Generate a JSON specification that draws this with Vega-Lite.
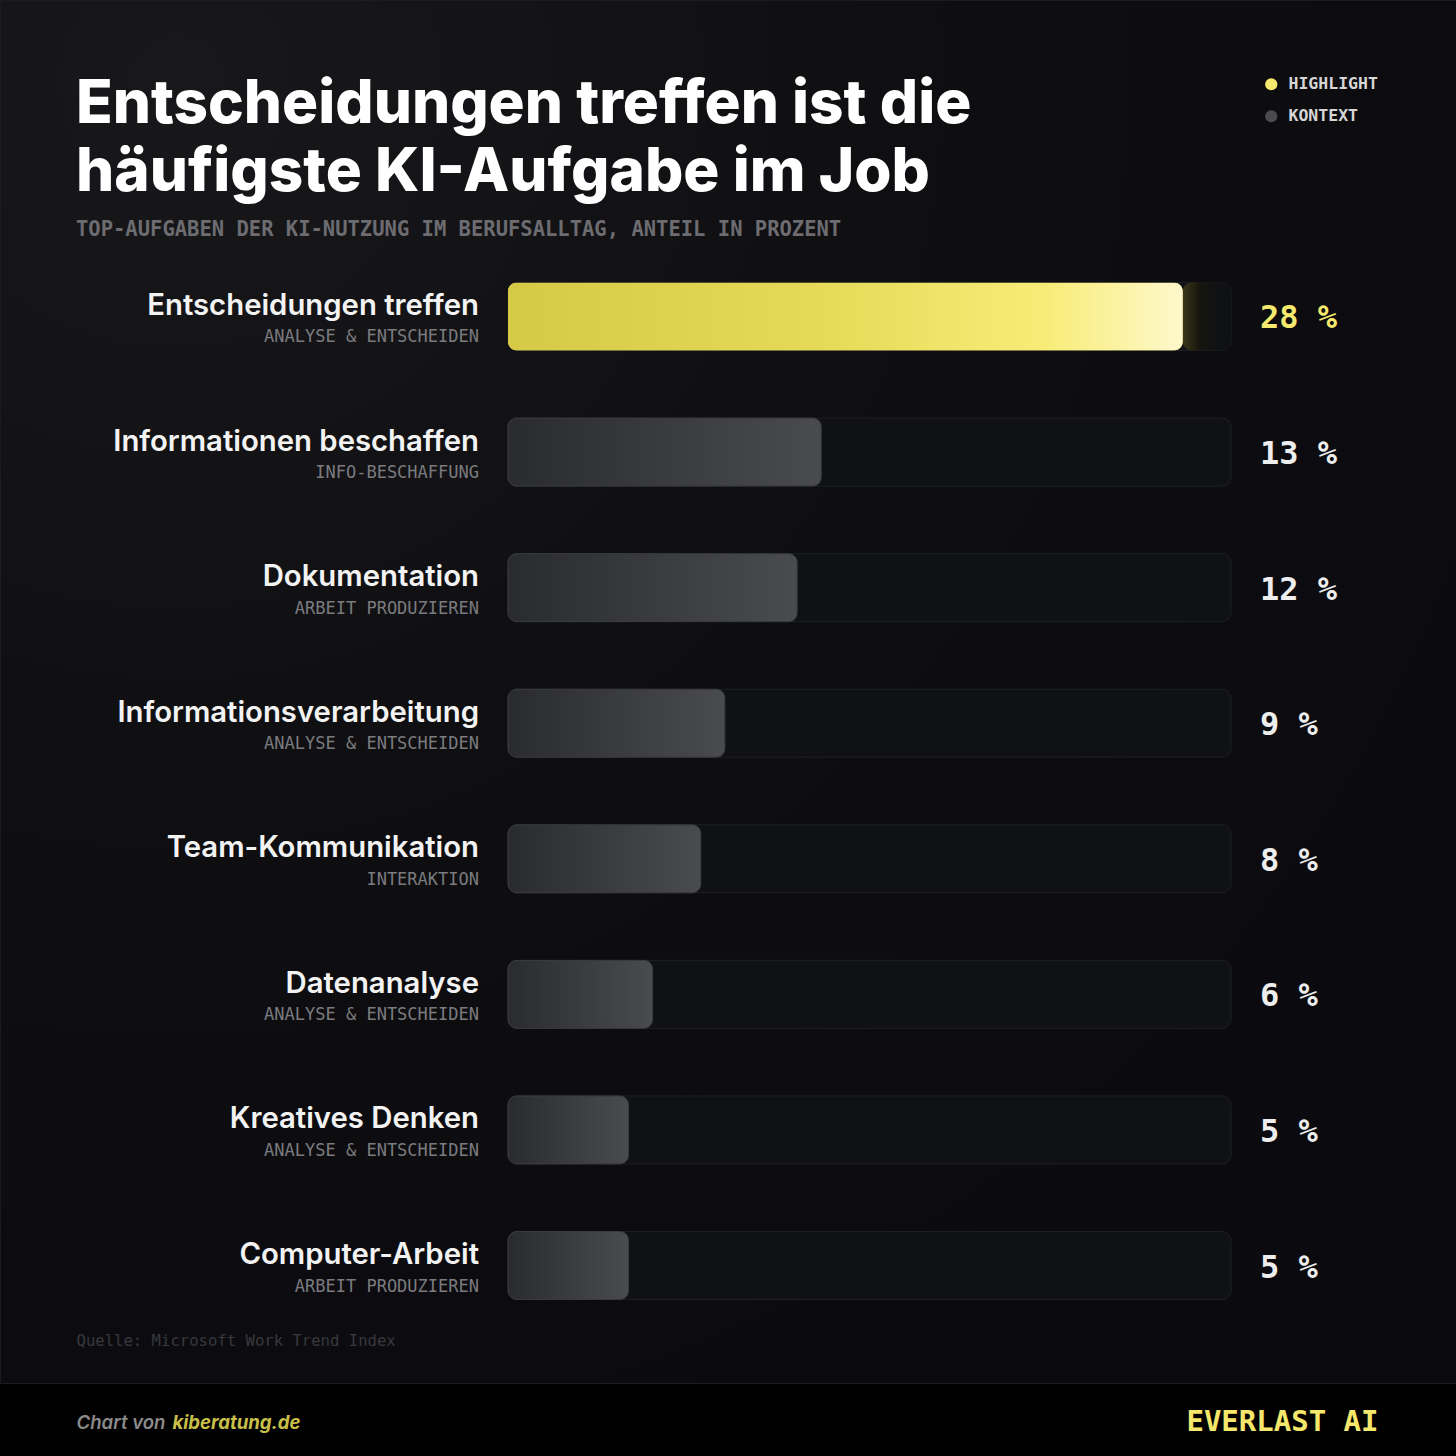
{
  "$schema": "https://vega.github.io/schema/vega-lite/v6.json",
  "width": 1456,
  "height": 1383,
  "autosize": {"type": "none"},
  "padding": {"left": 0, "top": 0, "right": 0, "bottom": 73},
  "background": "#000000",
  "config": {
    "view": {
      "fill": {"gradient": "radial", "x1": 0.12, "y1": 0.08, "r1": 0, "x2": 0.12, "y2": 0.08, "r2": 1.0,
        "stops": [{"offset": 0, "color": "#18181b"}, {"offset": 0.55, "color": "#0e0e11"}, {"offset": 1, "color": "#0b0b0f"}]},
      "stroke": "#1c1c20",
      "strokeWidth": 1
    },
    "axis": {"domain": false, "ticks": false, "labels": false, "grid": false}
  },
  "title": {
    "text": ["Entscheidungen treffen ist die", "häufigste KI-Aufgabe im Job"],
    "subtitle": "TOP-AUFGABEN DER KI-NUTZUNG IM BERUFSALLTAG, ANTEIL IN PROZENT",
    "orient": "top",
    "anchor": "start",
    "frame": "group",
    "offset": 0,
    "dx": 76,
    "dy": 240,
    "font": "Inter",
    "fontSize": 60.2,
    "fontWeight": 800,
    "lineHeight": 68,
    "color": "#ffffff",
    "subtitleFont": "DejaVu Sans Mono",
    "subtitleFontSize": 20.5,
    "subtitleFontWeight": "bold",
    "subtitleColor": "#6c6c71",
    "subtitlePadding": 16
  },
  "data": {
    "values": [
      {"task": "Entscheidungen treffen", "category": "ANALYSE & ENTSCHEIDEN", "value": 28, "label": "28 %", "group": "HIGHLIGHT"},
      {"task": "Informationen beschaffen", "category": "INFO-BESCHAFFUNG", "value": 13, "label": "13 %", "group": "KONTEXT"},
      {"task": "Dokumentation", "category": "ARBEIT PRODUZIEREN", "value": 12, "label": "12 %", "group": "KONTEXT"},
      {"task": "Informationsverarbeitung", "category": "ANALYSE & ENTSCHEIDEN", "value": 9, "label": "9 %", "group": "KONTEXT"},
      {"task": "Team-Kommunikation", "category": "INTERAKTION", "value": 8, "label": "8 %", "group": "KONTEXT"},
      {"task": "Datenanalyse", "category": "ANALYSE & ENTSCHEIDEN", "value": 6, "label": "6 %", "group": "KONTEXT"},
      {"task": "Kreatives Denken", "category": "ANALYSE & ENTSCHEIDEN", "value": 5, "label": "5 %", "group": "KONTEXT"},
      {"task": "Computer-Arbeit", "category": "ARBEIT PRODUZIEREN", "value": 5, "label": "5 %", "group": "KONTEXT"}
    ]
  },
  "resolve": {"axis": {"x": "independent", "y": "independent"}},
  "layer": [
    {
      "mark": {"type": "bar", "fill": "#101113", "stroke": "#1f2023", "strokeWidth": 1, "cornerRadius": 9},
      "encoding": {
        "y": {
          "field": "task", "type": "nominal", "sort": null,
          "scale": {"range": [248.7, 1333.3], "paddingInner": 0.4984, "paddingOuter": 0.2492},
          "axis": {"orient": "left", "title": "Chart von", "titleAngle": 0, "titleX": 76, "titleY": 1428,
            "titleAlign": "left", "titleBaseline": "alphabetic", "titleFont": "Inter", "titleFontSize": 18.6,
            "titleFontWeight": 600, "titleFontStyle": "italic", "titleColor": "#8a8a8a"}
        },
        "x": {
          "datum": 0, "type": "quantitative",
          "scale": {"domain": [0, 30], "range": [508, 1231], "nice": false},
          "axis": {"orient": "bottom", "title": "Quelle: Microsoft Work Trend Index", "titleX": 76, "titleY": -38,
            "titleAlign": "left", "titleAnchor": "start", "titleBaseline": "alphabetic", "titleFont": "DejaVu Sans Mono",
            "titleFontSize": 15.6, "titleFontWeight": "normal", "titleColor": "#38383e"}
        },
        "x2": {"datum": 30}
      }
    },
    {
      "transform": [{"filter": "datum.group === 'HIGHLIGHT'"}],
      "mark": {"type": "bar", "cornerRadius": 9,
        "fill": {"gradient": "linear", "x1": 0, "y1": 0, "x2": 1, "y2": 0,
          "stops": [{"offset": 0, "color": "#3a3718"}, {"offset": 0.35, "color": "#16160f"}, {"offset": 0.7, "color": "#101113"}, {"offset": 1, "color": "#101113"}]}},
      "encoding": {
        "y": {"field": "task", "type": "nominal", "sort": null, "axis": null},
        "x": {"field": "value", "type": "quantitative", "axis": null},
        "x2": {"datum": 30}
      }
    },
    {
      "mark": {"type": "bar", "cornerRadius": 9},
      "encoding": {
        "y": {"field": "task", "type": "nominal", "sort": null, "axis": null},
        "x": {"field": "value", "type": "quantitative", "axis": null},
        "color": {
          "field": "group", "type": "nominal",
          "scale": {"domain": ["HIGHLIGHT", "KONTEXT"], "range": ["#f6ea6e", "#4a4a4f"]},
          "legend": {"orient": "none", "legendX": 1263, "legendY": 76, "title": null, "direction": "vertical",
            "symbolType": "circle", "symbolSize": 150, "symbolStrokeWidth": 0, "symbolOpacity": 1,
            "labelFont": "DejaVu Sans Mono", "labelFontWeight": "bold", "labelFontSize": 16.5,
            "labelColor": "#d6d6d6", "labelOffset": 9, "rowPadding": 15}
        }
      }
    },
    {
      "transform": [{"filter": "datum.group === 'HIGHLIGHT'"}],
      "mark": {"type": "bar", "cornerRadius": 9,
        "fill": {"gradient": "linear", "x1": 0, "y1": 0, "x2": 1, "y2": 0,
          "stops": [{"offset": 0, "color": "#d5c946"}, {"offset": 0.45, "color": "#e5d957"}, {"offset": 0.8, "color": "#f8ec78"}, {"offset": 1, "color": "#fef8cc"}]}},
      "encoding": {
        "y": {"field": "task", "type": "nominal", "sort": null, "axis": null},
        "x": {"field": "value", "type": "quantitative", "axis": null}
      }
    },
    {
      "transform": [{"filter": "datum.group === 'KONTEXT'"}],
      "mark": {"type": "bar", "cornerRadius": 9, "stroke": "#3a3b3e", "strokeWidth": 1,
        "fill": {"gradient": "linear", "x1": 0, "y1": 0, "x2": 1, "y2": 0,
          "stops": [{"offset": 0, "color": "#2a2b2d"}, {"offset": 1, "color": "#4a4b4d"}]}},
      "encoding": {
        "y": {"field": "task", "type": "nominal", "sort": null, "axis": null},
        "x": {"field": "value", "type": "quantitative", "axis": null}
      }
    },
    {
      "mark": {"type": "text", "align": "right", "baseline": "alphabetic", "dx": -29, "dy": -1.5,
        "font": "Inter", "fontSize": 29.3, "fontWeight": 600, "color": "#f3f3f3"},
      "encoding": {
        "y": {"field": "task", "type": "nominal", "sort": null,
          "axis": {"orient": "right", "title": "EVERLAST AI", "titleAngle": 0, "titleX": -78, "titleY": 1430,
            "titleAlign": "right", "titleBaseline": "alphabetic", "titleFont": "DejaVu Sans Mono", "titleFontSize": 29,
            "titleFontWeight": "bold", "titleColor": "#f4e76c"}},
        "x": {"datum": 0, "type": "quantitative",
          "axis": {"orient": "top", "title": "kiberatung.de", "titleX": 172, "titleY": 1428, "titleAlign": "left",
            "titleAnchor": "start", "titleBaseline": "alphabetic", "titleFont": "Inter", "titleFontSize": 18.6,
            "titleFontWeight": 700, "titleFontStyle": "italic", "titleColor": "#c8bf48"}},
        "text": {"field": "task"}
      }
    },
    {
      "mark": {"type": "text", "align": "right", "baseline": "alphabetic", "dx": -29, "dy": 26,
        "font": "DejaVu Sans Mono", "fontSize": 17, "color": "#7b7b7f"},
      "encoding": {
        "y": {"field": "task", "type": "nominal", "sort": null, "axis": null},
        "x": {"datum": 0, "type": "quantitative", "axis": null},
        "text": {"field": "category"}
      }
    },
    {
      "mark": {"type": "text", "align": "left", "baseline": "alphabetic", "dx": 29, "dy": 12,
        "font": "DejaVu Sans Mono", "fontSize": 32, "fontWeight": "bold"},
      "encoding": {
        "y": {"field": "task", "type": "nominal", "sort": null, "axis": null},
        "x": {"datum": 30, "type": "quantitative", "axis": null},
        "text": {"field": "label"},
        "color": {"condition": {"test": "datum.group === 'HIGHLIGHT'", "value": "#f6ea6e"}, "value": "#eeeeee"}
      }
    }
  ]
}
